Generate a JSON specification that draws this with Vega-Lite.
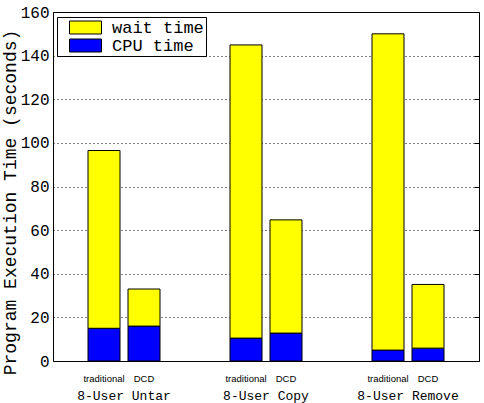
{
  "$schema": "https://vega.github.io/schema/vega-lite/v6.json",
  "autosize": {"type": "none"},
  "padding": {"left": 53, "top": 12, "right": 5, "bottom": 42},
  "width": 426,
  "height": 349,
  "background": "white",
  "config": {
    "view": {"stroke": "black", "strokeWidth": 1},
    "font": "Liberation Mono"
  },
  "data": {
    "values": [
      {"group": "8-User Untar", "type": "traditional", "component": "CPU time", "time": 15},
      {"group": "8-User Untar", "type": "traditional", "component": "wait time", "time": 81.5},
      {"group": "8-User Untar", "type": "DCD", "component": "CPU time", "time": 16},
      {"group": "8-User Untar", "type": "DCD", "component": "wait time", "time": 17},
      {"group": "8-User Copy", "type": "traditional", "component": "CPU time", "time": 10.5},
      {"group": "8-User Copy", "type": "traditional", "component": "wait time", "time": 134.4},
      {"group": "8-User Copy", "type": "DCD", "component": "CPU time", "time": 12.8},
      {"group": "8-User Copy", "type": "DCD", "component": "wait time", "time": 51.9},
      {"group": "8-User Remove", "type": "traditional", "component": "CPU time", "time": 5},
      {"group": "8-User Remove", "type": "traditional", "component": "wait time", "time": 145},
      {"group": "8-User Remove", "type": "DCD", "component": "CPU time", "time": 5.9},
      {"group": "8-User Remove", "type": "DCD", "component": "wait time", "time": 29.2}
    ]
  },
  "encoding": {
    "x": {
      "field": "group", "type": "nominal", "sort": null,
      "scale": {"paddingInner": 0, "paddingOuter": 0},
      "axis": {"title": null, "labelAngle": 0, "domain": false, "ticks": false, "labelPadding": 28,
               "labelFont": "Liberation Mono", "labelFontSize": 13, "labelColor": "black"}
    },
    "xOffset": {
      "field": "type", "type": "nominal", "sort": ["traditional", "DCD"],
      "scale": {"paddingInner": 0.2, "paddingOuter": 0.875}
    }
  },
  "layer": [
    {
      "mark": {"type": "bar", "stroke": "black", "strokeWidth": 1, "opacity": 1},
      "encoding": {
        "y": {
          "field": "time", "type": "quantitative", "stack": "zero",
          "scale": {"domain": [0, 160], "nice": false},
          "axis": {
            "title": "Program Execution Time (seconds)",
            "titleFont": "Liberation Mono", "titleFontSize": 18, "titleFontWeight": "normal",
            "titleColor": "black", "titlePadding": 1, "titleY": 190,
            "values": [0, 20, 40, 60, 80, 100, 120, 140, 160],
            "labelFont": "Liberation Mono", "labelFontSize": 16, "labelColor": "black",
            "labelPadding": 4,
            "domain": false, "ticks": false,
            "grid": true, "gridColor": "black", "gridOpacity": 1, "gridDash": [1, 3], "gridWidth": 1
          }
        },
        "color": {
          "field": "component", "type": "nominal",
          "scale": {"domain": ["wait time", "CPU time"], "range": ["#ffff00", "#0000ff"]},
          "legend": {
            "title": null, "orient": "none", "legendX": 4, "legendY": 5,
            "fillColor": "white", "strokeColor": "black",
            "padding": 2, "rowPadding": 0,
            "symbolType": "M-2.46,-1H2.46V1H-2.46Z", "symbolSize": 169,
            "symbolOffset": 18,
            "symbolStrokeColor": "black", "symbolStrokeWidth": 1, "symbolOpacity": 1,
            "labelFont": "Liberation Mono", "labelFontSize": 17, "labelColor": "black",
            "labelOffset": 18
          }
        },
        "order": {"field": "component", "sort": "ascending"}
      }
    },
    {
      "transform": [{"filter": "datum.component === 'CPU time'"}],
      "mark": {"type": "text", "font": "Liberation Sans", "fontSize": 9.5, "baseline": "middle", "dy": 18, "color": "black"},
      "encoding": {
        "y": {"datum": 0, "type": "quantitative",
              "axis": {"orient": "right", "title": null, "labels": false, "grid": false, "domain": false,
                       "ticks": true, "tickSize": -5, "tickColor": "black",
                       "values": [0, 20, 40, 60, 80, 100, 120, 140, 160]}},
        "text": {"field": "type"}
      }
    }
  ],
  "resolve": {"axis": {"y": "independent"}}
}
